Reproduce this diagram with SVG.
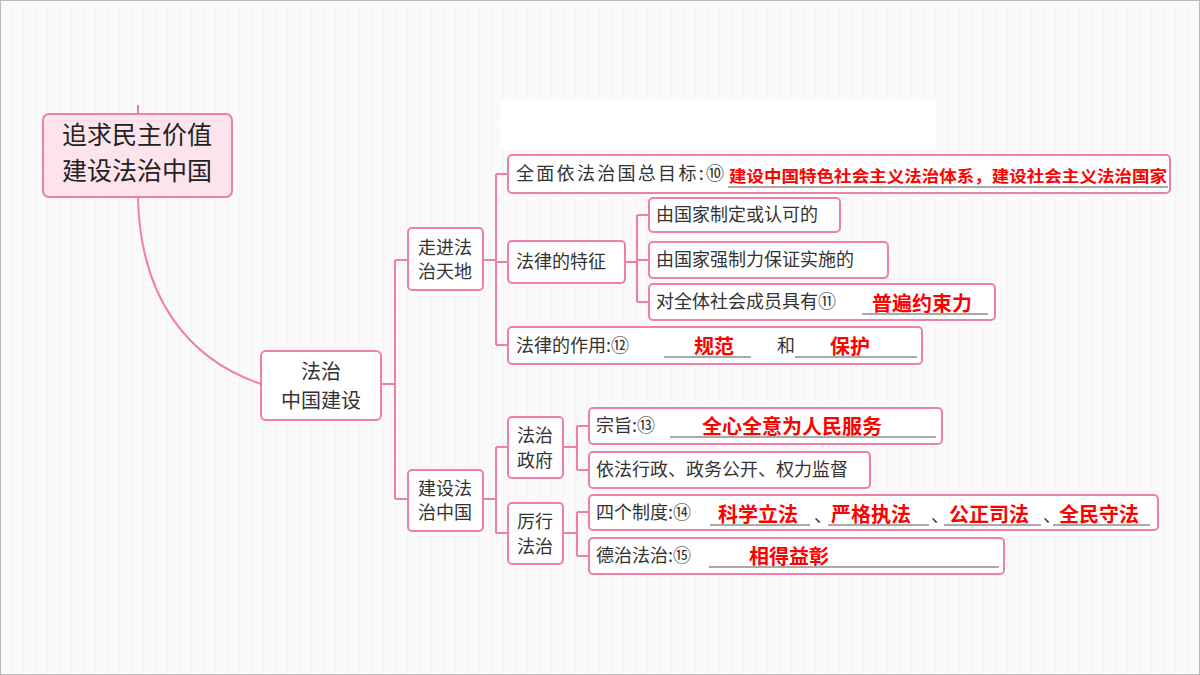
<svg xmlns="http://www.w3.org/2000/svg" width="1200" height="675" viewBox="0 0 1200 675">
<defs>
<pattern id="g" width="12" height="12" patternUnits="userSpaceOnUse"><path d="M12 0V12H0" fill="none" stroke="#ececec" stroke-width="0.8"/></pattern>
<style>
.b{fill:#fff;stroke:#f07fa8;stroke-width:2}
.c{fill:none;stroke:#f07fa8;stroke-width:2}
text{font-family:"Noto Sans CJK SC","Noto Sans",sans-serif;fill:#333;font-size:18px}
.r{fill:#f00;font-weight:bold}
.u{stroke:#555;stroke-width:1.2}
</style>
</defs>
<rect width="1200" height="675" fill="#fafafa"/>
<rect width="1200" height="675" fill="url(#g)"/>
<rect x="500" y="100" width="436" height="50" fill="#fff"/>
<rect x="0.5" y="0.5" width="1199" height="674" fill="none" stroke="#bbb"/>
<g id="connectors">
<path class="c" d="M138 105V114M138 197C140 300 190 360 261 384"/>
<path class="c" d="M381 384H395M395 260V499M395 260H408M395 499H408"/>
<path class="c" d="M483 260H496M496 174V345M496 174H508M496 262H508M496 345H508"/>
<path class="c" d="M625 262H637M637 215V302M637 215H649M637 260H649M637 302H649"/>
<path class="c" d="M483 499H496M496 447V533M496 447H508M496 533H508"/>
<path class="c" d="M563 447H577M577 426V470M577 426H589M577 470H589"/>
<path class="c" d="M563 533H577M577 512V556M577 512H589M577 556H589"/>
</g>
<g id="root"><rect x="43" y="114" width="189" height="83" rx="6" fill="#fde3ec" stroke="#f07fa8" stroke-width="2"/>
<text x="137" y="144" text-anchor="middle" style="font-size:25px;fill:#222">追求民主价值</text>
<text x="137" y="180" text-anchor="middle" style="font-size:25px;fill:#222">建设法治中国</text></g>
<g id="n1"><rect class="b" x="261" y="351" width="120" height="69" rx="5" fill="#fff5f8"/>
<text x="321" y="379" text-anchor="middle" style="font-size:20px">法治</text>
<text x="321" y="408" text-anchor="middle" style="font-size:20px">中国建设</text></g>
<g id="n2"><rect class="b" x="408" y="228" width="75" height="62" rx="4"/>
<text x="445" y="254" text-anchor="middle">走进法</text><text x="445" y="278" text-anchor="middle">治天地</text></g>
<g id="n3"><rect class="b" x="408" y="470" width="75" height="61" rx="4"/>
<text x="445" y="495" text-anchor="middle">建设法</text><text x="445" y="519" text-anchor="middle">治中国</text></g>
<g id="n4"><rect class="b" x="508" y="155" width="662" height="38" rx="4"/>
<text x="516" y="180" textLength="208" lengthAdjust="spacing">全面依法治国总目标:⑩</text>
<line class="u" x1="728" y1="187" x2="1168" y2="187"/>
<text class="r" x="729" y="182" textLength="438" lengthAdjust="spacingAndGlyphs" style="font-size:16px">建设中国特色社会主义法治体系，建设社会主义法治国家</text></g>
<g id="n5"><rect class="b" x="508" y="241" width="117" height="42" rx="4"/><text x="516" y="268">法律的特征</text></g>
<g id="n6"><rect class="b" x="649" y="198" width="191" height="34" rx="4"/><text x="656" y="221">由国家制定或认可的</text></g>
<g id="n7"><rect class="b" x="649" y="242" width="239" height="36" rx="4"/><text x="656" y="266">由国家强制力保证实施的</text></g>
<g id="n8"><rect class="b" x="649" y="284" width="346" height="36" rx="4"/><text x="656" y="308">对全体社会成员具有⑪</text>
<line class="u" x1="862" y1="314" x2="988" y2="314"/><text class="r" x="872" y="311" style="font-size:20px">普遍约束力</text></g>
<g id="n9"><rect class="b" x="508" y="327" width="414" height="37" rx="4"/><text x="516" y="352">法律的作用:⑫</text>
<line class="u" x1="664" y1="357" x2="751" y2="357"/><text class="r" x="694" y="354" style="font-size:20px">规范</text>
<text x="777" y="352">和</text>
<line class="u" x1="795" y1="357" x2="917" y2="357"/><text class="r" x="830" y="354" style="font-size:20px">保护</text></g>
<g id="n10"><rect class="b" x="508" y="417" width="55" height="61" rx="4"/>
<text x="535" y="442" text-anchor="middle">法治</text><text x="535" y="467" text-anchor="middle">政府</text></g>
<g id="n11"><rect class="b" x="508" y="503" width="55" height="61" rx="4"/>
<text x="535" y="528" text-anchor="middle">厉行</text><text x="535" y="553" text-anchor="middle">法治</text></g>
<g id="n12"><rect class="b" x="589" y="408" width="353" height="36" rx="4"/><text x="596" y="432">宗旨:⑬</text>
<line class="u" x1="670" y1="437" x2="936" y2="437"/><text class="r" x="702" y="434" style="font-size:20px">全心全意为人民服务</text></g>
<g id="n13"><rect class="b" x="589" y="452" width="281" height="36" rx="4"/><text x="596" y="476">依法行政、政务公开、权力监督</text></g>
<g id="n14"><rect class="b" x="589" y="495" width="569" height="35" rx="4"/><text x="596" y="519">四个制度:⑭</text>
<line class="u" x1="710" y1="525" x2="810" y2="525"/><text class="r" x="718" y="522" style="font-size:20px">科学立法</text>
<text x="814" y="522">、</text>
<line class="u" x1="828" y1="525" x2="929" y2="525"/><text class="r" x="831" y="522" style="font-size:20px">严格执法</text>
<text x="931" y="522">、</text>
<line class="u" x1="944" y1="525" x2="1041" y2="525"/><text class="r" x="949" y="522" style="font-size:20px">公正司法</text>
<text x="1043" y="522">、</text>
<line class="u" x1="1053" y1="525" x2="1150" y2="525"/><text class="r" x="1059" y="522" style="font-size:20px">全民守法</text></g>
<g id="n15"><rect class="b" x="589" y="538" width="415" height="36" rx="4"/><text x="596" y="562">德治法治:⑮</text>
<line class="u" x1="709" y1="567" x2="999" y2="567"/><text class="r" x="749" y="564" style="font-size:20px">相得益彰</text></g>
</svg>
